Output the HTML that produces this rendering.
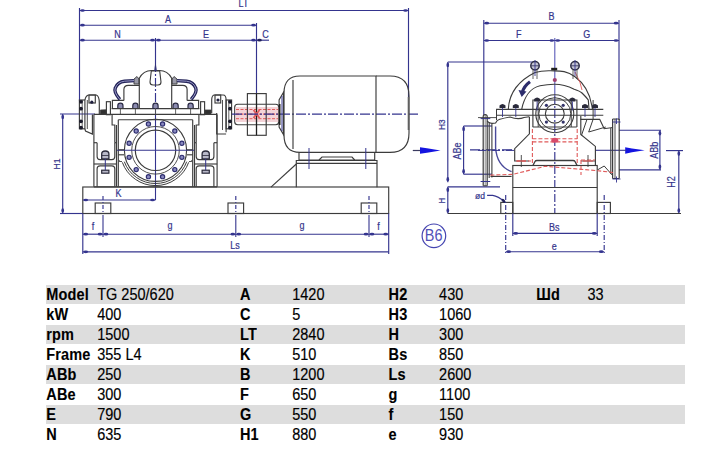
<!DOCTYPE html>
<html><head><meta charset="utf-8">
<style>
html,body{margin:0;padding:0;background:#fff;width:719px;height:453px;overflow:hidden;position:relative;font-family:"Liberation Sans",sans-serif;}
.st{position:absolute;left:46px;width:639px;height:19px;background:#dddddd;}
.b,.v{position:absolute;font-size:14.5px;transform:scaleY(1.1);transform-origin:0 0;line-height:0;color:#000;white-space:nowrap;}
.b{font-weight:bold;letter-spacing:0.15px;-webkit-text-stroke:0.1px #000;}
.v{letter-spacing:0px;-webkit-text-stroke:0.15px #000;}
svg{position:absolute;left:0;top:0;}
</style></head><body>
<svg width="719" height="453" viewBox="0 0 719 453" font-family="Liberation Sans, sans-serif">
<line x1="79.5" y1="8" x2="79.5" y2="101" stroke="#34348e" stroke-width="1.15" />
<line x1="408.5" y1="8" x2="408.5" y2="97" stroke="#34348e" stroke-width="1.15" />
<line x1="256.5" y1="23" x2="256.5" y2="93" stroke="#34348e" stroke-width="1.15" />
<line x1="79.5" y1="10.5" x2="408.5" y2="10.5" stroke="#34348e" stroke-width="1.15" />
<ellipse cx="82.50" cy="10.50" rx="2.3" ry="1.35" transform="rotate(180.0 82.50 10.50)" fill="#34348e"/>
<ellipse cx="405.50" cy="10.50" rx="2.3" ry="1.35" transform="rotate(0.0 405.50 10.50)" fill="#34348e"/>
<line x1="79.5" y1="25.2" x2="256.5" y2="25.2" stroke="#34348e" stroke-width="1.15" />
<ellipse cx="82.50" cy="25.20" rx="2.3" ry="1.35" transform="rotate(180.0 82.50 25.20)" fill="#34348e"/>
<ellipse cx="253.50" cy="25.20" rx="2.3" ry="1.35" transform="rotate(0.0 253.50 25.20)" fill="#34348e"/>
<line x1="79.5" y1="40.2" x2="155.5" y2="40.2" stroke="#34348e" stroke-width="1.15" />
<ellipse cx="82.50" cy="40.20" rx="2.3" ry="1.35" transform="rotate(180.0 82.50 40.20)" fill="#34348e"/>
<ellipse cx="152.50" cy="40.20" rx="2.3" ry="1.35" transform="rotate(0.0 152.50 40.20)" fill="#34348e"/>
<line x1="155.5" y1="40.2" x2="256.5" y2="40.2" stroke="#34348e" stroke-width="1.15" />
<ellipse cx="158.50" cy="40.20" rx="2.3" ry="1.35" transform="rotate(180.0 158.50 40.20)" fill="#34348e"/>
<ellipse cx="253.50" cy="40.20" rx="2.3" ry="1.35" transform="rotate(0.0 253.50 40.20)" fill="#34348e"/>
<line x1="256.5" y1="40.2" x2="269" y2="40.2" stroke="#34348e" stroke-width="1.15" />
<ellipse cx="259.50" cy="40.20" rx="2.3" ry="1.35" transform="rotate(180.0 259.50 40.20)" fill="#20205a"/>
<text transform="translate(243.5,7.3) scale(0.9,1)" font-size="10" fill="#34348c" stroke="#34348c" stroke-width="0.2" text-anchor="middle">LT</text>
<text transform="translate(168,23) scale(0.9,1)" font-size="10" fill="#34348c" stroke="#34348c" stroke-width="0.2" text-anchor="middle">A</text>
<text transform="translate(117.5,38) scale(0.9,1)" font-size="10" fill="#34348c" stroke="#34348c" stroke-width="0.2" text-anchor="middle">N</text>
<text transform="translate(206,38) scale(0.9,1)" font-size="10" fill="#34348c" stroke="#34348c" stroke-width="0.2" text-anchor="middle">E</text>
<text transform="translate(265.5,38) scale(0.9,1)" font-size="10" fill="#34348c" stroke="#34348c" stroke-width="0.2" text-anchor="middle">C</text>
<line x1="155.5" y1="38" x2="155.5" y2="63" stroke="#34348e" stroke-width="1.15" />
<line x1="155.5" y1="63" x2="155.5" y2="108" stroke="#34348e" stroke-width="1.15" stroke-dasharray="9,2,2,2" />
<line x1="155.5" y1="108" x2="155.5" y2="200" stroke="#34348e" stroke-width="1.1" />
<line x1="60" y1="114" x2="95" y2="114" stroke="#34348e" stroke-width="1.15" />
<line x1="62.7" y1="114" x2="62.7" y2="213.5" stroke="#34348e" stroke-width="1.15" />
<ellipse cx="62.70" cy="117.00" rx="2.3" ry="1.35" transform="rotate(-90.0 62.70 117.00)" fill="#34348e"/>
<ellipse cx="62.70" cy="210.50" rx="2.3" ry="1.35" transform="rotate(90.0 62.70 210.50)" fill="#34348e"/>
<line x1="60" y1="213.5" x2="83" y2="213.5" stroke="#34348e" stroke-width="1.15" />
<text transform="translate(59.6,164) rotate(-90) scale(0.9,1)" font-size="9.5" fill="#34348c" stroke="#34348c" stroke-width="0.2" text-anchor="middle">H1</text>
<rect x="82.8" y="187" width="305.9" height="26.5" rx="0" stroke="#3c3c3c" stroke-width="1.15" fill="none"/>
<rect x="95.2" y="203" width="15.6" height="10.5" rx="0" stroke="#3c3c3c" stroke-width="1.15" fill="none"/>
<line x1="103" y1="196" x2="103" y2="213.5" stroke="#34348e" stroke-width="1.15" stroke-dasharray="4,2,1,2" />
<line x1="103" y1="215" x2="103" y2="237" stroke="#34348e" stroke-width="1.1" />
<rect x="228.0" y="203" width="15.6" height="10.5" rx="0" stroke="#3c3c3c" stroke-width="1.15" fill="none"/>
<line x1="235.8" y1="196" x2="235.8" y2="213.5" stroke="#34348e" stroke-width="1.15" stroke-dasharray="4,2,1,2" />
<line x1="235.8" y1="215" x2="235.8" y2="237" stroke="#34348e" stroke-width="1.1" />
<rect x="361.2" y="203" width="15.6" height="10.5" rx="0" stroke="#3c3c3c" stroke-width="1.15" fill="none"/>
<line x1="369" y1="196" x2="369" y2="213.5" stroke="#34348e" stroke-width="1.15" stroke-dasharray="4,2,1,2" />
<line x1="369" y1="215" x2="369" y2="237" stroke="#34348e" stroke-width="1.1" />
<line x1="82.8" y1="200" x2="155.5" y2="200" stroke="#34348e" stroke-width="1.15" />
<ellipse cx="85.80" cy="200.00" rx="2.3" ry="1.35" transform="rotate(180.0 85.80 200.00)" fill="#34348e"/>
<ellipse cx="152.50" cy="200.00" rx="2.3" ry="1.35" transform="rotate(0.0 152.50 200.00)" fill="#34348e"/>
<text transform="translate(118.4,197) scale(0.9,1)" font-size="10" fill="#34348c" stroke="#34348c" stroke-width="0.2" text-anchor="middle">K</text>
<line x1="82.8" y1="213.5" x2="82.8" y2="254" stroke="#34348e" stroke-width="1.15" />
<line x1="388.7" y1="213.5" x2="388.7" y2="254" stroke="#34348e" stroke-width="1.15" />
<line x1="82.8" y1="234.2" x2="103" y2="234.2" stroke="#34348e" stroke-width="1.15" />
<ellipse cx="85.80" cy="234.20" rx="2.3" ry="1.35" transform="rotate(180.0 85.80 234.20)" fill="#34348e"/>
<ellipse cx="100.00" cy="234.20" rx="2.3" ry="1.35" transform="rotate(0.0 100.00 234.20)" fill="#34348e"/>
<line x1="103" y1="234.2" x2="235.8" y2="234.2" stroke="#34348e" stroke-width="1.15" />
<ellipse cx="106.00" cy="234.20" rx="2.3" ry="1.35" transform="rotate(180.0 106.00 234.20)" fill="#34348e"/>
<ellipse cx="232.80" cy="234.20" rx="2.3" ry="1.35" transform="rotate(0.0 232.80 234.20)" fill="#34348e"/>
<line x1="235.8" y1="234.2" x2="369" y2="234.2" stroke="#34348e" stroke-width="1.15" />
<ellipse cx="238.80" cy="234.20" rx="2.3" ry="1.35" transform="rotate(180.0 238.80 234.20)" fill="#34348e"/>
<ellipse cx="366.00" cy="234.20" rx="2.3" ry="1.35" transform="rotate(0.0 366.00 234.20)" fill="#34348e"/>
<line x1="369" y1="234.2" x2="388.7" y2="234.2" stroke="#34348e" stroke-width="1.15" />
<ellipse cx="372.00" cy="234.20" rx="2.3" ry="1.35" transform="rotate(180.0 372.00 234.20)" fill="#34348e"/>
<ellipse cx="385.70" cy="234.20" rx="2.3" ry="1.35" transform="rotate(0.0 385.70 234.20)" fill="#34348e"/>
<line x1="82.8" y1="251.8" x2="388.7" y2="251.8" stroke="#34348e" stroke-width="1.15" />
<ellipse cx="85.80" cy="251.80" rx="2.3" ry="1.35" transform="rotate(180.0 85.80 251.80)" fill="#34348e"/>
<text transform="translate(93,230) scale(0.9,1)" font-size="10" fill="#34348c" stroke="#34348c" stroke-width="0.2" text-anchor="middle">f</text>
<text transform="translate(170,229) scale(0.9,1)" font-size="10" fill="#34348c" stroke="#34348c" stroke-width="0.2" text-anchor="middle">g</text>
<text transform="translate(302,229) scale(0.9,1)" font-size="10" fill="#34348c" stroke="#34348c" stroke-width="0.2" text-anchor="middle">g</text>
<text transform="translate(378.5,230) scale(0.9,1)" font-size="10" fill="#34348c" stroke="#34348c" stroke-width="0.2" text-anchor="middle">f</text>
<text transform="translate(235,249) scale(0.9,1)" font-size="10" fill="#34348c" stroke="#34348c" stroke-width="0.2" text-anchor="middle">Ls</text>
<rect x="79.4" y="100" width="5.5" height="28.8" rx="0" stroke="#3c3c3c" stroke-width="1.15" fill="none"/>
<line x1="82.2" y1="100" x2="82.2" y2="128.8" stroke="#3c3c3c" stroke-width="0.8" />
<circle cx="81" cy="101.8" r="1.9" fill="#1a1a2a"/>
<circle cx="81" cy="108.7" r="1.9" fill="#1a1a2a"/>
<circle cx="81" cy="121.3" r="1.9" fill="#1a1a2a"/>
<circle cx="81" cy="127.7" r="1.9" fill="#1a1a2a"/>
<path d="M84.9,100 Q85.9,95 89.4,95 L96.3,95 Q99.3,96 99.3,103 L99.3,114.4" stroke="#3c3c3c" stroke-width="1.15" fill="none"/>
<path d="M84.9,128.8 L85.5,131 L92.4,134 L92.4,114.4" stroke="#3c3c3c" stroke-width="1.15" fill="none"/>
<rect x="89" y="95" width="6.3" height="8" rx="0" stroke="#3c3c3c" stroke-width="1.15" fill="none"/>
<circle cx="91.8" cy="102.2" r="1.6" fill="#202040"/>
<line x1="87.3" y1="100" x2="87.3" y2="129" stroke="#3c3c3c" stroke-width="0.9" />
<path d="M100.4,110 L106.2,109.8 L106.2,114.2 L100.4,114.2 Z" stroke="#3c3c3c" stroke-width="0.8" fill="#303030"/>
<rect x="106.4" y="101.7" width="4" height="13" rx="0" stroke="#3c3c3c" stroke-width="1.15" fill="none"/>
<path d="M93.9,114.5 L93.9,186.8" stroke="#3c3c3c" stroke-width="1.15" fill="none"/>
<path d="M97.1,142.7 L97.1,156.5 Q97.1,159.6 100.1,159.6 L111.8,159.6 Q114.8,159.6 114.8,156.5 L114.8,142.7" stroke="#3c3c3c" stroke-width="1.15" fill="none"/>
<path d="M97.1,186.8 L97.1,168.8 Q97.1,165.8 100.1,165.8 L111.8,165.8 Q114.8,165.8 114.8,168.8 L114.8,186.8" stroke="#3c3c3c" stroke-width="1.15" fill="none"/>
<line x1="93.9" y1="142.7" x2="97.1" y2="142.7" stroke="#3c3c3c" stroke-width="1.15" />
<line x1="114.8" y1="142.7" x2="116.5" y2="142.7" stroke="#3c3c3c" stroke-width="1.15" />
<line x1="93.9" y1="164" x2="116.5" y2="164" stroke="#3c3c3c" stroke-width="1.15" />
<path d="M112.1,114.5 L112.1,125 L114.8,125 L114.8,142.7" stroke="#3c3c3c" stroke-width="1.15" fill="none"/>
<line x1="116.5" y1="125" x2="116.5" y2="186.8" stroke="#3c3c3c" stroke-width="1.15" />
<line x1="118.3" y1="119.7" x2="118.3" y2="186.8" stroke="#3c3c3c" stroke-width="1.15" />
<path d="M119.2,160 L119.2,161.5 L122,161.5" stroke="#3c3c3c" stroke-width="0.9" fill="none"/>
<path d="M101.7,158.8 L101.7,154 Q101.7,151 105.3,151 Q108.89999999999999,151 108.89999999999999,154 L108.89999999999999,158.8 Z" stroke="#2a2a3a" stroke-width="1.3" fill="#b8b8c8"/>
<line x1="101.7" y1="155.5" x2="108.89999999999999" y2="155.5" stroke="#2a2a3a" stroke-width="0.8" />
<rect x="101.7" y="170.2" width="7.2" height="3" rx="0" stroke="#2a2a3a" stroke-width="1.2" fill="#b8b8c8"/>
<line x1="105.3" y1="158.8" x2="105.3" y2="170.2" stroke="#34348e" stroke-width="1" />
<path d="M123.9,100.4 L123.9,89.5 Q123.9,85.4 128.3,85.4 L139.3,85.4" stroke="#3c3c3c" stroke-width="1.15" fill="none"/>
<path d="M112.4,108.6 L112.4,100.4 L123.9,100.4" stroke="#3c3c3c" stroke-width="1.15" fill="none"/>
<path d="M134,79 L137,76.5 L139,79 L139,84 L134,84 Z" stroke="#3c3c3c" stroke-width="0.9" fill="#9a9aa8"/>
<path d="M119.8,99.3 Q113.5,92 115.3,88 Q117.5,82 124.5,81.2 L134,80.6" stroke="#25255a" stroke-width="3.4" fill="none"/>
<path d="M119.8,99.3 Q113.5,92 115.3,88 Q117.5,82 124.5,81.2 L134,80.6" stroke="#9a9ac8" stroke-width="1.0" fill="none"/>
<path d="M117.80000000000001,108.5 L117.80000000000001,105.8 Q117.80000000000001,103.2 120.4,103.2 Q123.0,103.2 123.0,105.8 L123.0,108.5 Z" fill="#8c8cb0" stroke="#2a2a44" stroke-width="1.2"/>
<line x1="120.4" y1="108" x2="120.4" y2="114" stroke="#555" stroke-width="0.9"/>
<path d="M132.8,108.5 L132.8,105.8 Q132.8,103.2 135.4,103.2 Q138.0,103.2 138.0,105.8 L138.0,108.5 Z" fill="#8c8cb0" stroke="#2a2a44" stroke-width="1.2"/>
<line x1="135.4" y1="108" x2="135.4" y2="114" stroke="#555" stroke-width="0.9"/>
<path d="M139.3,108.4 L139.3,78.2 Q143.5,70.5 151.6,70.5 L155.5,70.5" stroke="#3c3c3c" stroke-width="1.15" fill="none"/>
<rect x="226.1" y="100" width="5.5" height="28.8" rx="0" stroke="#3c3c3c" stroke-width="1.15" fill="none"/>
<line x1="228.8" y1="100" x2="228.8" y2="128.8" stroke="#3c3c3c" stroke-width="0.8" />
<circle cx="230.0" cy="101.8" r="1.9" fill="#1a1a2a"/>
<circle cx="230.0" cy="108.7" r="1.9" fill="#1a1a2a"/>
<circle cx="230.0" cy="121.3" r="1.9" fill="#1a1a2a"/>
<circle cx="230.0" cy="127.7" r="1.9" fill="#1a1a2a"/>
<path d="M211.7,113 L211.7,100 Q211.7,95 214.7,95 L223.1,95 Q226.1,95 226.1,100 L226.1,132.3" stroke="#3c3c3c" stroke-width="1.15" fill="none"/>
<path d="M216.7,113 L216.7,134 L226.1,134" stroke="#3c3c3c" stroke-width="1.15" fill="none"/>
<rect x="215" y="95" width="5.7" height="8" rx="0" stroke="#3c3c3c" stroke-width="1.15" fill="none"/>
<circle cx="218" cy="100" r="1.6" fill="#202040"/>
<line x1="222.5" y1="100" x2="222.5" y2="130" stroke="#3c3c3c" stroke-width="0.9" />
<path d="M205,110 L211,110 L211,114.2 L205,114.2 Z" stroke="#3c3c3c" stroke-width="0.8" fill="#303030"/>
<rect x="200.6" y="101.7" width="4" height="13" rx="0" stroke="#3c3c3c" stroke-width="1.15" fill="none"/>
<path d="M217.1,114.5 L217.1,186.8" stroke="#3c3c3c" stroke-width="1.15" fill="none"/>
<path d="M213.9,142.7 L213.9,156.5 Q213.9,159.6 210.9,159.6 L199.2,159.6 Q196.2,159.6 196.2,156.5 L196.2,142.7" stroke="#3c3c3c" stroke-width="1.15" fill="none"/>
<path d="M213.9,186.8 L213.9,168.8 Q213.9,165.8 210.9,165.8 L199.2,165.8 Q196.2,165.8 196.2,168.8 L196.2,186.8" stroke="#3c3c3c" stroke-width="1.15" fill="none"/>
<line x1="217.1" y1="142.7" x2="213.9" y2="142.7" stroke="#3c3c3c" stroke-width="1.15" />
<line x1="196.2" y1="142.7" x2="194.5" y2="142.7" stroke="#3c3c3c" stroke-width="1.15" />
<line x1="217.1" y1="164" x2="194.5" y2="164" stroke="#3c3c3c" stroke-width="1.15" />
<path d="M198.9,114.5 L198.9,125 L196.2,125 L196.2,142.7" stroke="#3c3c3c" stroke-width="1.15" fill="none"/>
<line x1="194.5" y1="125" x2="194.5" y2="186.8" stroke="#3c3c3c" stroke-width="1.15" />
<line x1="192.7" y1="119.7" x2="192.7" y2="186.8" stroke="#3c3c3c" stroke-width="1.15" />
<path d="M191.8,160 L191.8,161.5 L189.0,161.5" stroke="#3c3c3c" stroke-width="0.9" fill="none"/>
<path d="M202.1,158.8 L202.1,154 Q202.1,151 205.7,151 Q209.29999999999998,151 209.29999999999998,154 L209.29999999999998,158.8 Z" stroke="#2a2a3a" stroke-width="1.3" fill="#b8b8c8"/>
<line x1="202.1" y1="155.5" x2="209.29999999999998" y2="155.5" stroke="#2a2a3a" stroke-width="0.8" />
<rect x="202.1" y="170.2" width="7.2" height="3" rx="0" stroke="#2a2a3a" stroke-width="1.2" fill="#b8b8c8"/>
<line x1="205.7" y1="158.8" x2="205.7" y2="170.2" stroke="#34348e" stroke-width="1" />
<path d="M187.1,100.4 L187.1,89.5 Q187.1,85.4 182.7,85.4 L171.7,85.4" stroke="#3c3c3c" stroke-width="1.15" fill="none"/>
<path d="M198.6,108.6 L198.6,100.4 L187.1,100.4" stroke="#3c3c3c" stroke-width="1.15" fill="none"/>
<path d="M177.0,79 L174.0,76.5 L172.0,79 L172.0,84 L177.0,84 Z" stroke="#3c3c3c" stroke-width="0.9" fill="#9a9aa8"/>
<path d="M191.2,99.3 Q197.5,92 195.7,88 Q193.5,82 186.5,81.2 L177.0,80.6" stroke="#25255a" stroke-width="3.4" fill="none"/>
<path d="M191.2,99.3 Q197.5,92 195.7,88 Q193.5,82 186.5,81.2 L177.0,80.6" stroke="#9a9ac8" stroke-width="1.0" fill="none"/>
<path d="M188.0,108.5 L188.0,105.8 Q188.0,103.2 190.6,103.2 Q193.2,103.2 193.2,105.8 L193.2,108.5 Z" fill="#8c8cb0" stroke="#2a2a44" stroke-width="1.2"/>
<line x1="190.6" y1="108" x2="190.6" y2="114" stroke="#555" stroke-width="0.9"/>
<path d="M173.0,108.5 L173.0,105.8 Q173.0,103.2 175.6,103.2 Q178.2,103.2 178.2,105.8 L178.2,108.5 Z" fill="#8c8cb0" stroke="#2a2a44" stroke-width="1.2"/>
<line x1="175.6" y1="108" x2="175.6" y2="114" stroke="#555" stroke-width="0.9"/>
<path d="M171.7,108.4 L171.7,78.2 Q167.5,70.5 159.4,70.5 L155.5,70.5" stroke="#3c3c3c" stroke-width="1.15" fill="none"/>
<line x1="111.6" y1="108.6" x2="199.4" y2="108.6" stroke="#3c3c3c" stroke-width="1.15" />
<line x1="93.9" y1="114.3" x2="217.1" y2="114.3" stroke="#3c3c3c" stroke-width="1.15" />
<line x1="118.3" y1="119.7" x2="192.7" y2="119.7" stroke="#3c3c3c" stroke-width="1.15" />
<path d="M152.9,108.5 L152.9,105.8 Q152.9,103.2 155.5,103.2 Q158.1,103.2 158.1,105.8 L158.1,108.5 Z" fill="#8c8cb0" stroke="#2a2a44" stroke-width="1.2"/>
<line x1="155.5" y1="108" x2="155.5" y2="114" stroke="#555" stroke-width="0.9"/>
<path d="M151.3,71 L159.7,71 L161,82 Q161,85 158,85 L153,85 Q150,85 150,82 Z" stroke="#3c3c3c" stroke-width="1.1" fill="none"/>
<path d="M154.2,71 L155.5,61 L156.8,71 Z" stroke="none" stroke-width="0" fill="#34347a"/>
<circle cx="155.5" cy="150.3" r="20.2" stroke="#3c3c3c" stroke-width="1.2" fill="none"/>
<circle cx="155.5" cy="150.3" r="23.8" stroke="#3c3c3c" stroke-width="0.9" fill="none"/>
<circle cx="155.5" cy="150.3" r="31.1" stroke="#3c3c3c" stroke-width="1.1" fill="none"/>
<path d="M186.70,161.66 A33.2,33.2 0 0 1 124.30,161.66" stroke="#3c3c3c" stroke-width="1" fill="none"/>
<path d="M188.67,162.37 A35.3,35.3 0 0 1 122.33,162.37" stroke="#3c3c3c" stroke-width="1" fill="none"/>
<circle cx="181.86977505769156" cy="157.36575993129884" r="2.1" stroke="#2e2e70" stroke-width="1.2" fill="#8a8ac0"/>
<circle cx="174.80401512639276" cy="169.60401512639277" r="2.1" stroke="#2e2e70" stroke-width="1.2" fill="#8a8ac0"/>
<circle cx="162.56575993129883" cy="176.66977505769157" r="2.1" stroke="#2e2e70" stroke-width="1.2" fill="#8a8ac0"/>
<circle cx="148.43424006870117" cy="176.66977505769157" r="2.1" stroke="#2e2e70" stroke-width="1.2" fill="#8a8ac0"/>
<circle cx="136.19598487360724" cy="169.60401512639277" r="2.1" stroke="#2e2e70" stroke-width="1.2" fill="#8a8ac0"/>
<circle cx="129.13022494230844" cy="157.36575993129884" r="2.1" stroke="#2e2e70" stroke-width="1.2" fill="#8a8ac0"/>
<circle cx="129.13022494230844" cy="143.23424006870118" r="2.1" stroke="#2e2e70" stroke-width="1.2" fill="#8a8ac0"/>
<circle cx="136.19598487360724" cy="130.99598487360726" r="2.1" stroke="#2e2e70" stroke-width="1.2" fill="#8a8ac0"/>
<circle cx="148.4342400687012" cy="123.93022494230844" r="2.1" stroke="#2e2e70" stroke-width="1.2" fill="#8a8ac0"/>
<circle cx="162.5657599312988" cy="123.93022494230844" r="2.1" stroke="#2e2e70" stroke-width="1.2" fill="#8a8ac0"/>
<circle cx="174.80401512639276" cy="130.99598487360726" r="2.1" stroke="#2e2e70" stroke-width="1.2" fill="#8a8ac0"/>
<circle cx="181.86977505769156" cy="143.23424006870118" r="2.1" stroke="#2e2e70" stroke-width="1.2" fill="#8a8ac0"/>
<line x1="117" y1="150.3" x2="194" y2="150.3" stroke="#34348e" stroke-width="1.1" />
<line x1="118.3" y1="149.8" x2="124" y2="149.8" stroke="#3c3c3c" stroke-width="1.15" />
<line x1="118.3" y1="154.8" x2="124" y2="154.8" stroke="#3c3c3c" stroke-width="1.15" />
<line x1="187" y1="149.8" x2="192.7" y2="149.8" stroke="#3c3c3c" stroke-width="1.15" />
<line x1="187" y1="154.8" x2="192.7" y2="154.8" stroke="#3c3c3c" stroke-width="1.15" />
<line x1="93.9" y1="186.8" x2="217.1" y2="186.8" stroke="#3c3c3c" stroke-width="1.15" />
<path d="M237.7,104.2 L275.7,104.2 Q278.7,104.2 278.7,107.2 L278.7,121.7 Q278.7,124.7 275.7,124.7 L237.7,124.7 Q234.7,124.7 234.7,121.7 L234.7,107.2 Q234.7,104.2 237.7,104.2 Z" stroke="#3c3c3c" stroke-width="1.15" fill="none"/>
<rect x="235.5" y="107" width="43" height="15" rx="0" stroke="none" stroke-width="0" fill="#f4d4d8"/>
<line x1="236" y1="109.5" x2="278" y2="109.5" stroke="#e05a5a" stroke-width="1" stroke-dasharray="3,1.5" />
<line x1="236" y1="118.7" x2="278" y2="118.7" stroke="#e05a5a" stroke-width="1" stroke-dasharray="3,1.5" />
<line x1="236" y1="114.1" x2="278" y2="114.1" stroke="#e05a5a" stroke-width="1.2" stroke-dasharray="3,1.5" />
<rect x="247.4" y="93.6" width="18.8" height="41.7" rx="0" stroke="#3c3c3c" stroke-width="1.15" fill="none"/>
<line x1="256.5" y1="93.6" x2="256.5" y2="135.3" stroke="#202020" stroke-width="1.3" />
<path d="M253.5,110 L259.5,118 M259.5,110 L253.5,118" stroke="#e05a5a" stroke-width="1.8" fill="none"/>
<line x1="232" y1="114.1" x2="420" y2="114.1" stroke="#34348e" stroke-width="1.15" stroke-dasharray="10,2,2,2" />
<path d="M283.5,92.3 L279.1,100 L279.1,127 L283.5,134.6 Z" stroke="#3c3c3c" stroke-width="1.15" fill="none"/>
<line x1="279.7" y1="104" x2="279.7" y2="125" stroke="#202020" stroke-width="1.6" />
<line x1="282" y1="96" x2="282" y2="131" stroke="#34348e" stroke-width="1" />
<path d="M300,76 L376,76 L376,152.4 L300,152.4 Q284,152.4 284,135 L284,93 Q284,76 300,76 Z" stroke="#3c3c3c" stroke-width="1.15" fill="none"/>
<line x1="293" y1="80" x2="293" y2="149" stroke="#3c3c3c" stroke-width="1.15" />
<path d="M376,76 L390,76 Q409,76 409,96 L409,133 Q409,152.4 390,152.4 L376,152.4" stroke="#3c3c3c" stroke-width="1.15" fill="none"/>
<line x1="408.5" y1="97" x2="408.5" y2="130" stroke="#606060" stroke-width="1.6" />
<path d="M299,152.4 L299,160 L374.7,160 L374.7,152.4" stroke="#3c3c3c" stroke-width="1.15" fill="none"/>
<path d="M319,160 L322,157 L352,157 L354.7,160" stroke="#3c3c3c" stroke-width="1.15" fill="none"/>
<path d="M296.3,187.2 L296.3,160.5 L377,160.5 L377,187.2" stroke="#3c3c3c" stroke-width="1.15" fill="none"/>
<line x1="296.3" y1="163.4" x2="377" y2="163.4" stroke="#3c3c3c" stroke-width="1.15" />
<line x1="296.3" y1="164" x2="271" y2="187.2" stroke="#3c3c3c" stroke-width="1.15" />
<line x1="309" y1="148" x2="309" y2="169" stroke="#34348e" stroke-width="1" />
<line x1="365.8" y1="148" x2="365.8" y2="169" stroke="#34348e" stroke-width="1" />
<line x1="412.8" y1="150.5" x2="421" y2="150.5" stroke="#3a3a60" stroke-width="1.2" />
<path d="M420,147.3 L427,148.2 L440.5,150.5 L427,152.8 L420,153.8 Z" stroke="none" stroke-width="0" fill="#1414e0"/>
<circle cx="433.9" cy="235.8" r="11.8" stroke="#4444b0" stroke-width="1.2" fill="none"/>
<text transform="translate(433.6,241.2) scale(0.85,1)" font-size="17" fill="#5050b8" text-anchor="middle">B6</text>
<line x1="483.8" y1="20" x2="483.8" y2="115" stroke="#34348e" stroke-width="1.15" />
<line x1="619" y1="20" x2="619" y2="120" stroke="#34348e" stroke-width="1.15" />
<line x1="554.8" y1="38" x2="554.8" y2="96" stroke="#5a5ab8" stroke-width="1.1" />
<line x1="554.8" y1="96" x2="554.8" y2="213" stroke="#34348e" stroke-width="1.15" stroke-dasharray="8,2,2,2" />
<line x1="483.8" y1="23.2" x2="619" y2="23.2" stroke="#34348e" stroke-width="1.15" />
<ellipse cx="486.80" cy="23.20" rx="2.3" ry="1.35" transform="rotate(180.0 486.80 23.20)" fill="#34348e"/>
<ellipse cx="616.00" cy="23.20" rx="2.3" ry="1.35" transform="rotate(0.0 616.00 23.20)" fill="#34348e"/>
<line x1="483.8" y1="40.5" x2="554.8" y2="40.5" stroke="#34348e" stroke-width="1.15" />
<ellipse cx="486.80" cy="40.50" rx="2.3" ry="1.35" transform="rotate(180.0 486.80 40.50)" fill="#34348e"/>
<ellipse cx="551.80" cy="40.50" rx="2.3" ry="1.35" transform="rotate(0.0 551.80 40.50)" fill="#34348e"/>
<line x1="554.8" y1="40.5" x2="619" y2="40.5" stroke="#34348e" stroke-width="1.15" />
<ellipse cx="557.80" cy="40.50" rx="2.3" ry="1.35" transform="rotate(180.0 557.80 40.50)" fill="#34348e"/>
<ellipse cx="616.00" cy="40.50" rx="2.3" ry="1.35" transform="rotate(0.0 616.00 40.50)" fill="#34348e"/>
<text transform="translate(551.4,20) scale(0.9,1)" font-size="10" fill="#34348c" stroke="#34348c" stroke-width="0.2" text-anchor="middle">B</text>
<text transform="translate(518.7,37.5) scale(0.9,1)" font-size="10" fill="#34348c" stroke="#34348c" stroke-width="0.2" text-anchor="middle">F</text>
<text transform="translate(586.8,38) scale(0.9,1)" font-size="10" fill="#34348c" stroke="#34348c" stroke-width="0.2" text-anchor="middle">G</text>
<line x1="447.8" y1="62" x2="533" y2="62" stroke="#34348e" stroke-width="1.15" />
<line x1="447.8" y1="62" x2="447.8" y2="182.3" stroke="#34348e" stroke-width="1.15" />
<ellipse cx="447.80" cy="65.00" rx="2.3" ry="1.35" transform="rotate(-90.0 447.80 65.00)" fill="#34348e"/>
<ellipse cx="447.80" cy="179.30" rx="2.3" ry="1.35" transform="rotate(90.0 447.80 179.30)" fill="#34348e"/>
<line x1="447.8" y1="186.8" x2="447.8" y2="213.5" stroke="#34348e" stroke-width="1.15" />
<ellipse cx="447.80" cy="189.80" rx="2.3" ry="1.35" transform="rotate(-90.0 447.80 189.80)" fill="#34348e"/>
<ellipse cx="447.80" cy="210.50" rx="2.3" ry="1.35" transform="rotate(90.0 447.80 210.50)" fill="#34348e"/>
<line x1="447.8" y1="186.8" x2="500" y2="186.8" stroke="#34348e" stroke-width="1.15" />
<text transform="translate(444.8,124.6) rotate(-90) scale(0.9,1)" font-size="9.2" fill="#34348c" stroke="#34348c" stroke-width="0.2" text-anchor="middle">H3</text>
<text transform="translate(444.6,200.7) rotate(-90) scale(0.9,1)" font-size="8.5" fill="#34348c" stroke="#34348c" stroke-width="0.2" text-anchor="middle">H</text>
<line x1="463.6" y1="126" x2="492" y2="126" stroke="#34348e" stroke-width="1.15" />
<line x1="463.6" y1="126" x2="463.6" y2="174.2" stroke="#34348e" stroke-width="1.15" />
<ellipse cx="463.60" cy="129.00" rx="2.3" ry="1.35" transform="rotate(-90.0 463.60 129.00)" fill="#34348e"/>
<ellipse cx="463.60" cy="171.20" rx="2.3" ry="1.35" transform="rotate(90.0 463.60 171.20)" fill="#34348e"/>
<line x1="463.6" y1="174.2" x2="492" y2="174.2" stroke="#34348e" stroke-width="1.15" />
<text transform="translate(460.5,151) rotate(-90) scale(0.9,1)" font-size="10" fill="#34348c" stroke="#34348c" stroke-width="0.2" text-anchor="middle">ABe</text>
<line x1="619" y1="130.2" x2="661" y2="130.2" stroke="#34348e" stroke-width="1.15" />
<line x1="659.9" y1="130.2" x2="659.9" y2="169.8" stroke="#34348e" stroke-width="1.15" />
<ellipse cx="659.90" cy="133.20" rx="2.3" ry="1.35" transform="rotate(-90.0 659.90 133.20)" fill="#34348e"/>
<ellipse cx="659.90" cy="166.80" rx="2.3" ry="1.35" transform="rotate(90.0 659.90 166.80)" fill="#34348e"/>
<line x1="619" y1="169.8" x2="661" y2="169.8" stroke="#34348e" stroke-width="1.15" />
<text transform="translate(657.5,150.3) rotate(-90) scale(0.9,1)" font-size="10" fill="#34348c" stroke="#34348c" stroke-width="0.2" text-anchor="middle">ABb</text>
<line x1="666" y1="150.6" x2="683" y2="150.6" stroke="#34348e" stroke-width="1.15" />
<line x1="678.8" y1="150.6" x2="678.8" y2="213.5" stroke="#34348e" stroke-width="1.15" />
<ellipse cx="678.80" cy="153.60" rx="2.3" ry="1.35" transform="rotate(-90.0 678.80 153.60)" fill="#34348e"/>
<ellipse cx="678.80" cy="210.50" rx="2.3" ry="1.35" transform="rotate(90.0 678.80 210.50)" fill="#34348e"/>
<text transform="translate(675.3,182) rotate(-90) scale(0.9,1)" font-size="10" fill="#34348c" stroke="#34348c" stroke-width="0.2" text-anchor="middle">H2</text>
<line x1="447.8" y1="213.5" x2="681" y2="213.5" stroke="#3c3c3c" stroke-width="1.15" />
<rect x="512.8" y="165.5" width="84.4" height="48" rx="0" stroke="#3c3c3c" stroke-width="1.15" fill="none"/>
<line x1="512.8" y1="187.5" x2="597.2" y2="187.5" stroke="#3c3c3c" stroke-width="1.15" />
<rect x="500.8" y="202.4" width="12" height="11.1" rx="0" stroke="#3c3c3c" stroke-width="1.15" fill="none"/>
<rect x="597.2" y="202.4" width="13.2" height="11.1" rx="0" stroke="#3c3c3c" stroke-width="1.15" fill="none"/>
<line x1="505.7" y1="195" x2="505.7" y2="255" stroke="#34348e" stroke-width="1.15" stroke-dasharray="5,2,1,2" />
<line x1="604.2" y1="195" x2="604.2" y2="255" stroke="#34348e" stroke-width="1.15" stroke-dasharray="5,2,1,2" />
<line x1="512.8" y1="213.5" x2="512.8" y2="236" stroke="#34348e" stroke-width="1.15" />
<line x1="597.2" y1="213.5" x2="597.2" y2="236" stroke="#34348e" stroke-width="1.15" />
<line x1="512.8" y1="233.4" x2="597.2" y2="233.4" stroke="#34348e" stroke-width="1.15" />
<ellipse cx="515.80" cy="233.40" rx="2.3" ry="1.35" transform="rotate(180.0 515.80 233.40)" fill="#34348e"/>
<ellipse cx="594.20" cy="233.40" rx="2.3" ry="1.35" transform="rotate(0.0 594.20 233.40)" fill="#34348e"/>
<line x1="505.7" y1="251.7" x2="604.2" y2="251.7" stroke="#34348e" stroke-width="1.15" />
<ellipse cx="508.70" cy="251.70" rx="2.3" ry="1.35" transform="rotate(180.0 508.70 251.70)" fill="#34348e"/>
<ellipse cx="601.20" cy="251.70" rx="2.3" ry="1.35" transform="rotate(0.0 601.20 251.70)" fill="#34348e"/>
<text transform="translate(554.3,231) scale(0.9,1)" font-size="10" fill="#34348c" stroke="#34348c" stroke-width="0.2" text-anchor="middle">Bs</text>
<text transform="translate(554.3,249.5) scale(0.9,1)" font-size="10" fill="#34348c" stroke="#34348c" stroke-width="0.2" text-anchor="middle">e</text>
<text transform="translate(480,198.8) scale(0.9,1)" font-size="9.5" fill="#34348c" stroke="#34348c" stroke-width="0.2" text-anchor="middle">ød</text>
<path d="M487.1,195.4 L492.7,195.4 Q498,196 505.2,202.3" stroke="#34348e" stroke-width="1.1" fill="none"/>
<ellipse cx="503.5" cy="200.8" rx="2.3" ry="1.35" transform="rotate(42 503.5 200.8)" fill="#20205a"/>
<line x1="470" y1="149.8" x2="514" y2="149.8" stroke="#34348e" stroke-width="1.15" stroke-dasharray="10,2,2,2" />
<path d="M625.2,147.3 L632,148.4 L644.7,150.3 L632,152.3 L625.2,153.8 Z" stroke="none" stroke-width="0" fill="#1414e0"/>
<line x1="595" y1="150.3" x2="626" y2="150.3" stroke="#34348c" stroke-width="1.1" />
<path d="M483.2,185.8 L483.2,116.5 Q483.2,114.6 485.2,114.6 Q487.2,114.6 487.2,116.5 L487.2,185.8" stroke="#3c3c3c" stroke-width="1.2" fill="none"/>
<line x1="485.2" y1="114.6" x2="485.2" y2="185.8" stroke="#3c3c3c" stroke-width="0.6" />
<line x1="489.2" y1="122" x2="489.2" y2="178" stroke="#3c3c3c" stroke-width="1.1" />
<line x1="491.9" y1="123.4" x2="491.9" y2="177.4" stroke="#3c3c3c" stroke-width="1.1" />
<line x1="480.6" y1="118.6" x2="490.3" y2="118.6" stroke="#34348e" stroke-width="1" />
<line x1="480.6" y1="181.5" x2="490.3" y2="181.5" stroke="#34348e" stroke-width="1" />
<line x1="483.2" y1="185.8" x2="487.2" y2="185.8" stroke="#3c3c3c" stroke-width="1" />
<line x1="496.5" y1="110" x2="496.5" y2="120" stroke="#3c3c3c" stroke-width="1" />
<line x1="610.8" y1="128" x2="610.8" y2="174" stroke="#3c3c3c" stroke-width="1.1" />
<line x1="612.6" y1="119" x2="612.6" y2="178.5" stroke="#3c3c3c" stroke-width="1.2" />
<line x1="615" y1="119" x2="615" y2="178.5" stroke="#3c3c3c" stroke-width="0.9" />
<line x1="619.2" y1="119" x2="619.2" y2="178.5" stroke="#3c3c3c" stroke-width="1.2" />
<line x1="612.6" y1="119" x2="619.2" y2="119" stroke="#3c3c3c" stroke-width="1" />
<line x1="612.6" y1="178.5" x2="619.2" y2="178.5" stroke="#3c3c3c" stroke-width="1" />
<path d="M612.5,122 L620.5,122 M616.5,118.5 L616.5,124" stroke="#34348e" stroke-width="0.9" fill="none"/>
<path d="M612.5,179 L620.5,179 M616.5,176.5 L616.5,182.5" stroke="#34348e" stroke-width="0.9" fill="none"/>
<path d="M487.2,121.2 Q489,123.4 492,123.4 L495.6,123 Q497,120 499.1,119.5 Q504,118 510,117 Q518,120 524,117.5 L529.2,116.8" stroke="#3c3c3c" stroke-width="1.15" fill="none"/>
<path d="M490.5,176.4 L511.6,176.4" stroke="#3c3c3c" stroke-width="1.15" fill="none"/>
<path d="M495.6,126.6 L495.6,148 Q497,166 511.6,171.7" stroke="#4a4a9a" stroke-width="1.4" fill="none"/>
<line x1="478" y1="150.4" x2="514" y2="150.4" stroke="#34348e" stroke-width="1" stroke-dasharray="8,2,2,2" />
<path d="M580.4,119.3 L599.7,119.3 L604.2,128.7 L612.6,127.5" stroke="#3c3c3c" stroke-width="1.15" fill="none"/>
<path d="M604.2,166 L612.6,175.5 M597.3,170 L604.2,166" stroke="#3c3c3c" stroke-width="1" fill="none"/>
<path d="M587,119.3 L581.5,135.3 M593.1,119.3 L588.7,132 L605.8,127" stroke="#3c3c3c" stroke-width="1" fill="none"/>
<line x1="593.1" y1="100" x2="593.1" y2="119.3" stroke="#3c3c3c" stroke-width="1" />
<path d="M529.4,116.8 L529.4,133.8 L514.7,148.7 L514.7,161 L529.2,161" stroke="#3c3c3c" stroke-width="1.15" fill="none"/>
<path d="M580.8,116 L580.8,134.5 L595.4,146.4 L595.4,165.4" stroke="#3c3c3c" stroke-width="1.15" fill="none"/>
<path d="M581,161 L595,161" stroke="#3c3c3c" stroke-width="0.9" fill="none"/>
<path d="M533,165.4 L535,161.5 Q535.5,160.5 537,160.5 L573,160.5 Q574.5,160.5 575,161.5 L577,165.4" stroke="#3c3c3c" stroke-width="1.3" fill="none"/>
<path d="M508.3,109.3 C509,95 516,82 535,72.5 C543,70 548,70.8 554.2,70.8 C561,70.8 567,71 575,76.7 C585,84 590,95 591.7,105 L592.5,109.3" stroke="#3c3c3c" stroke-width="1.15" fill="none"/>
<path d="M521.7,109.3 C524,98 530,88 540,85.8 C546,84.5 550,84.2 554.2,84.2 C560,84.2 566,85 574.2,89.2 Q580,91 582,93 Q587,98 588.3,100 L589,109.3" stroke="#3c3c3c" stroke-width="1.15" fill="none"/>
<path d="M575,72 Q578,78 580,82.5 L582,90" stroke="#e05a5a" stroke-width="0.9" fill="none"/>
<line x1="496" y1="109.3" x2="603.3" y2="109.3" stroke="#3c3c3c" stroke-width="1.15" />
<line x1="496" y1="115.2" x2="603.3" y2="115.2" stroke="#3c3c3c" stroke-width="1.15" />
<line x1="478" y1="117.6" x2="496.5" y2="117.6" stroke="#3c3c3c" stroke-width="0.9" />
<path d="M532.9,127 L532.9,100 L576.9,100 L576.9,127" stroke="#3c3c3c" stroke-width="1.15" fill="none"/>
<line x1="538.2" y1="100" x2="538.2" y2="127" stroke="#3c3c3c" stroke-width="0.9" />
<line x1="571.3" y1="100" x2="571.3" y2="127" stroke="#3c3c3c" stroke-width="0.9" />
<line x1="532.7" y1="127" x2="576.8" y2="127" stroke="#3c3c3c" stroke-width="1.15" />
<circle cx="554.8" cy="113.7" r="19" stroke="#3c3c3c" stroke-width="1.1" fill="none"/>
<circle cx="554.8" cy="113.7" r="16" stroke="#3c3c3c" stroke-width="1" fill="none"/>
<circle cx="554.8" cy="113.7" r="9.4" stroke="#3c3c3c" stroke-width="1.1" fill="none"/>
<circle cx="546.4" cy="105.3" r="1.6" fill="#33336a"/>
<circle cx="563.1999999999999" cy="105.3" r="1.6" fill="#33336a"/>
<circle cx="546.4" cy="122.10000000000001" r="1.6" fill="#33336a"/>
<circle cx="563.1999999999999" cy="122.10000000000001" r="1.6" fill="#33336a"/>
<path d="M499.5,108 L499.5,105.5 Q502.5,102.5 505.5,105.5 L505.5,108 Z" stroke="none" stroke-width="0" fill="#2a2a3a"/>
<line x1="502.5" y1="108" x2="502.5" y2="117" stroke="#34348e" stroke-width="0.9" />
<path d="M512.8,108 L512.8,105.5 Q515.8,102.5 518.8,105.5 L518.8,108 Z" stroke="none" stroke-width="0" fill="#2a2a3a"/>
<line x1="515.8" y1="108" x2="515.8" y2="117" stroke="#34348e" stroke-width="0.9" />
<path d="M582,108 L582,105.5 Q585,102.5 588,105.5 L588,108 Z" stroke="none" stroke-width="0" fill="#2a2a3a"/>
<line x1="585" y1="108" x2="585" y2="117" stroke="#34348e" stroke-width="0.9" />
<path d="M592,108 L592,105.5 Q595,102.5 598,105.5 L598,108 Z" stroke="none" stroke-width="0" fill="#2a2a3a"/>
<line x1="595" y1="108" x2="595" y2="117" stroke="#34348e" stroke-width="0.9" />
<path d="M534.1,101.5 L534.1,99.0 Q537.1,96.0 540.1,99.0 L540.1,101.5 Z" stroke="none" stroke-width="0" fill="#2a2a3a"/>
<line x1="537.1" y1="101.5" x2="537.1" y2="110.5" stroke="#34348e" stroke-width="0.9" />
<path d="M569.4,101.5 L569.4,99.0 Q572.4,96.0 575.4,99.0 L575.4,101.5 Z" stroke="none" stroke-width="0" fill="#2a2a3a"/>
<line x1="572.4" y1="101.5" x2="572.4" y2="110.5" stroke="#34348e" stroke-width="0.9" />
<circle cx="535" cy="65.8" r="4.2" stroke="#2e2e44" stroke-width="1.5" fill="#c4c4d4"/>
<line x1="530.8" y1="65.8" x2="539.2" y2="65.8" stroke="#3a3a60" stroke-width="0.9" />
<line x1="535" y1="60" x2="535" y2="76" stroke="#34348e" stroke-width="0.9" />
<path d="M533,70 L533,79 M537,70 L537,79" stroke="#3c3c3c" stroke-width="0.8" fill="none"/>
<circle cx="575" cy="65.8" r="4.2" stroke="#2e2e44" stroke-width="1.5" fill="#c4c4d4"/>
<line x1="570.8" y1="65.8" x2="579.2" y2="65.8" stroke="#3a3a60" stroke-width="0.9" />
<line x1="575" y1="60" x2="575" y2="76" stroke="#34348e" stroke-width="0.9" />
<path d="M573,70 L573,79 M577,70 L577,79" stroke="#3c3c3c" stroke-width="0.8" fill="none"/>
<rect x="551.2" y="67.8" width="6" height="2.5" rx="0" stroke="none" stroke-width="0" fill="#202020"/>
<circle cx="554.8" cy="80" r="2.1" fill="#a04070"/>
<path d="M530,81.7 Q524,86 522.5,92" stroke="#2c2c6c" stroke-width="3.2" fill="none"/>
<path d="M518.5,90 L521.7,97 L526.5,91.5 Z" stroke="none" stroke-width="0" fill="#2c2c6c"/>
<line x1="532.4" y1="129" x2="532.4" y2="165" stroke="#e05a5a" stroke-width="1.1" stroke-dasharray="4,2" />
<line x1="577.2" y1="129" x2="577.2" y2="165" stroke="#e05a5a" stroke-width="1.1" stroke-dasharray="4,2" />
<line x1="581" y1="160" x2="581" y2="175" stroke="#e05a5a" stroke-width="1.1" stroke-dasharray="4,2" />
<line x1="532.4" y1="138.7" x2="577.2" y2="138.7" stroke="#e05a5a" stroke-width="1.1" stroke-dasharray="4,2" />
<line x1="532.4" y1="141.9" x2="577.2" y2="141.9" stroke="#e05a5a" stroke-width="1.1" stroke-dasharray="4,2" />
<line x1="516" y1="161" x2="531" y2="161" stroke="#e05a5a" stroke-width="1.1" stroke-dasharray="4,2" />
<line x1="581" y1="160" x2="595" y2="160" stroke="#e05a5a" stroke-width="1.1" stroke-dasharray="4,2" />
<path d="M490.4,175.1 L513.3,174.3 L545.1,166.3 L597.7,170.7 L613,172.5" stroke="#e05a5a" stroke-width="1.1" fill="none" stroke-dasharray="4,2"/>
<ellipse cx="554.8" cy="140.3" rx="3.5" ry="2.5" fill="#d84a6a"/>
<line x1="521.3" y1="155" x2="521.3" y2="167" stroke="#3c3c3c" stroke-width="0.9" />
<line x1="588" y1="155" x2="588" y2="167" stroke="#3c3c3c" stroke-width="0.9" />
<line x1="517" y1="161" x2="526" y2="161" stroke="#e05a5a" stroke-width="1.2" />
<line x1="583" y1="161" x2="593" y2="161" stroke="#e05a5a" stroke-width="1.2" />
</svg>

<div class="st" style="top:285px"></div>
<div class="st" style="top:325px"></div>
<div class="st" style="top:365px"></div>
<div class="st" style="top:405px"></div>
<div class="b" style="left:46.3px;top:293.8px">Model</div>
<div class="v" style="left:97.2px;top:293.8px">TG 250/620</div>
<div class="b" style="left:240.0px;top:293.8px">A</div>
<div class="v" style="left:292.2px;top:293.8px">1420</div>
<div class="b" style="left:388.6px;top:293.8px">H2</div>
<div class="v" style="left:439.1px;top:293.8px">430</div>
<div class="b" style="left:536.2px;top:293.8px">Шd</div>
<div class="v" style="left:587.5px;top:293.8px">33</div>
<div class="b" style="left:46.3px;top:313.8px">kW</div>
<div class="v" style="left:97.2px;top:313.8px">400</div>
<div class="b" style="left:240.0px;top:313.8px">C</div>
<div class="v" style="left:292.2px;top:313.8px">5</div>
<div class="b" style="left:388.6px;top:313.8px">H3</div>
<div class="v" style="left:439.1px;top:313.8px">1060</div>
<div class="b" style="left:46.3px;top:333.8px">rpm</div>
<div class="v" style="left:97.2px;top:333.8px">1500</div>
<div class="b" style="left:240.0px;top:333.8px">LT</div>
<div class="v" style="left:292.2px;top:333.8px">2840</div>
<div class="b" style="left:388.6px;top:333.8px">H</div>
<div class="v" style="left:439.1px;top:333.8px">300</div>
<div class="b" style="left:46.3px;top:353.8px">Frame</div>
<div class="v" style="left:97.2px;top:353.8px">355 L4</div>
<div class="b" style="left:240.0px;top:353.8px">K</div>
<div class="v" style="left:292.2px;top:353.8px">510</div>
<div class="b" style="left:388.6px;top:353.8px">Bs</div>
<div class="v" style="left:439.1px;top:353.8px">850</div>
<div class="b" style="left:46.3px;top:373.8px">ABb</div>
<div class="v" style="left:97.2px;top:373.8px">250</div>
<div class="b" style="left:240.0px;top:373.8px">B</div>
<div class="v" style="left:292.2px;top:373.8px">1200</div>
<div class="b" style="left:388.6px;top:373.8px">Ls</div>
<div class="v" style="left:439.1px;top:373.8px">2600</div>
<div class="b" style="left:46.3px;top:393.8px">ABe</div>
<div class="v" style="left:97.2px;top:393.8px">300</div>
<div class="b" style="left:240.0px;top:393.8px">F</div>
<div class="v" style="left:292.2px;top:393.8px">650</div>
<div class="b" style="left:388.6px;top:393.8px">g</div>
<div class="v" style="left:439.1px;top:393.8px">1100</div>
<div class="b" style="left:46.3px;top:413.8px">E</div>
<div class="v" style="left:97.2px;top:413.8px">790</div>
<div class="b" style="left:240.0px;top:413.8px">G</div>
<div class="v" style="left:292.2px;top:413.8px">550</div>
<div class="b" style="left:388.6px;top:413.8px">f</div>
<div class="v" style="left:439.1px;top:413.8px">150</div>
<div class="b" style="left:46.3px;top:433.8px">N</div>
<div class="v" style="left:97.2px;top:433.8px">635</div>
<div class="b" style="left:240.0px;top:433.8px">H1</div>
<div class="v" style="left:292.2px;top:433.8px">880</div>
<div class="b" style="left:388.6px;top:433.8px">e</div>
<div class="v" style="left:439.1px;top:433.8px">930</div>
</body></html>
